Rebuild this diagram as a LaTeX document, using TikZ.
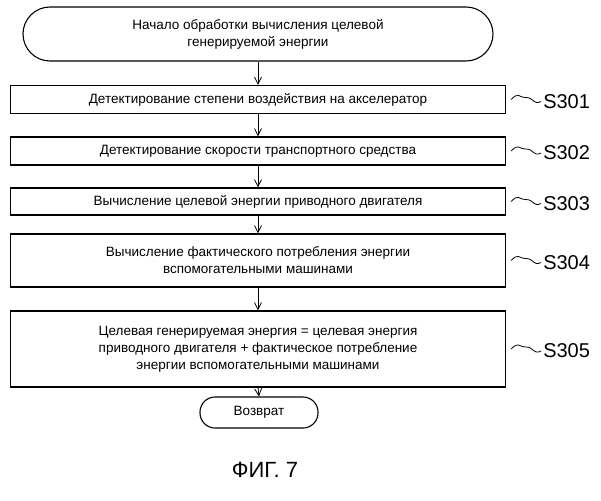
\documentclass[tikz,border=0pt]{standalone}
\usepackage{fontspec}
\setmainfont{Liberation Sans}
\usetikzlibrary{arrows.meta}
\begin{document}
\begin{tikzpicture}[x=1pt,y=-1pt,
  box/.style={draw,line width=1.1pt,align=center,font=\fontsize{13.5}{17}\selectfont},
  term/.style={box,rounded corners=14pt},
  arr/.style={-{Straight Barb[length=7pt,width=7pt]},line width=0.8pt},
  lab/.style={font=\fontsize{20}{20}\selectfont,anchor=west,inner sep=0pt}]
\useasboundingbox (0,0) rectangle (601,500);
\node[term,minimum width=470pt,minimum height=54pt,rounded corners=27pt] (s) at (258,34) {Начало обработки вычисления целевой\\генерируемой энергии};
\node[box,minimum width=495pt,minimum height=28pt] (a) at (258,99.5) {Детектирование степени воздействия на акселератор};
\node[box,minimum width=495pt,minimum height=28pt] (b) at (258,151) {Детектирование скорости транспортного средства};
\node[box,minimum width=495pt,minimum height=27pt] (c) at (258,201.5) {Вычисление целевой энергии приводного двигателя};
\node[box,minimum width=495pt,minimum height=53pt] (d) at (258,260.5) {Вычисление фактического потребления энергии\\вспомогательными машинами};
\node[box,minimum width=495pt,minimum height=76pt] (e) at (258,349) {Целевая генерируемая энергия = целевая энергия\\приводного двигателя + фактическое потребление\\энергии вспомогательными машинами};
\node[term,minimum width=118pt,minimum height=31pt,rounded corners=15pt] (r) at (259,412.5) {Возврат};
\foreach \u/\v in {s/a,a/b,b/c,c/d,d/e,e/r} \draw[arr] (\u.south) -- (\v.north);
\foreach \n/\t in {a/S301,b/S302,c/S303,d/S304,e/S305}{
  \coordinate (t\n) at ([xshift=5pt]\n.east);
  \draw[line width=0.8pt] (t\n) .. controls +(8,-8) and +(-8,0) .. ++(15,-2) .. controls +(8,0) and +(-8,4) .. ++(15,4) coordinate (u\n);
  \node[lab] (l\n) at ([xshift=2pt]u\n) {\t};
}
\node[font=\fontsize{22}{24}\selectfont] (f) at (265,470) {ФИГ. 7};
\end{tikzpicture}
\end{document}
